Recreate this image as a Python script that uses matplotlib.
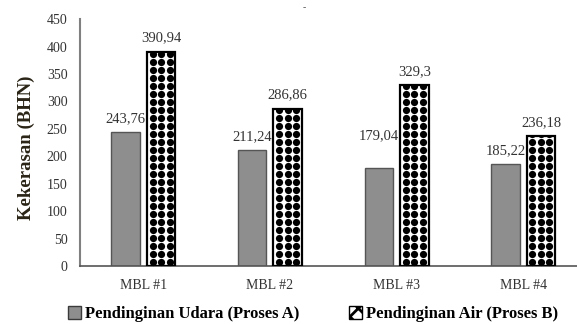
import matplotlib.pyplot as plt
import numpy as np
from matplotlib.patches import Patch

# Data kekerasan (BHN) per sampel
kategori = ['MBL #1', 'MBL #2', 'MBL #3', 'MBL #4']
proses_a = [243.76, 211.24, 179.04, 185.22]   # Pendinginan Udara
proses_b = [390.94, 286.86, 329.3, 236.18]    # Pendinginan Air
label_a = ['243,76', '211,24', '179,04', '185,22']
label_b = ['390,94', '286,86', '329,3', '236,18']
yticks = [0, 50, 100, 150, 200, 250, 300, 350, 400, 450]

plt.rcParams['font.family'] = ['Liberation Serif', 'DejaVu Serif']
plt.rcParams['hatch.linewidth'] = 2.0

fig = plt.figure(figsize=(5.77, 3.24), dpi=100)
ax = fig.add_axes([0.1386, 0.179, 0.878, 0.762])

x = np.arange(len(kategori))
lebar = 0.225
geser = 0.14

ax.set_xlim(-0.5, 3.5)
ax.set_ylim(0, 450)

bar_a = ax.bar(x - geser, proses_a, lebar, color='#8e8e8e', edgecolor='#555555',
               linewidth=1.0, zorder=2)
bar_b = ax.bar(x + geser, proses_b, lebar, color='none', edgecolor='black',
               linewidth=1.6, zorder=4)

# Pola titik hitam di dalam batang Proses B
inv = ax.transData.inverted()
x0, y0 = inv.transform((0, 0))
x1, y1 = inv.transform((8.5, 8))
dx, dy = x1 - x0, y1 - y0
for xi, b in zip(x, bar_b):
    cx = xi + geser
    kol = cx + dx * np.arange(-1, 2)
    bar_bg = ax.bar(cx, b.get_height(), lebar, color='white', linewidth=0, zorder=2)[0]
    baris = np.arange(dy * 0.5, b.get_height() + dy, dy)
    gx, gy = np.meshgrid(kol, baris)
    sc = ax.scatter(gx.ravel(), gy.ravel(), s=27, marker='o', color='black',
                    linewidths=0, zorder=3)
    sc.set_clip_path(bar_bg)

# Label nilai di atas batang
naik_a = [10, 10, 23, 10]
for xi, v, t, d in zip(x, proses_a, label_a, naik_a):
    ax.annotate(t, (xi - geser, v), xytext=(0, d), textcoords='offset points',
                ha='center', va='center', fontsize=10.5, color='#333333')
for xi, v, t in zip(x, proses_b, label_b):
    ax.annotate(t, (xi + geser, v), xytext=(0, 10), textcoords='offset points',
                ha='center', va='center', fontsize=10.5, color='#333333')

ax.set_yticks(yticks)
ax.set_xticks(x)
ax.set_xticklabels(kategori)
ax.tick_params(axis='both', length=0, labelsize=10, colors='#333333')
ax.tick_params(axis='x', pad=9)
ax.tick_params(axis='y', pad=9)

for s in ['top', 'right']:
    ax.spines[s].set_visible(False)
ax.spines['left'].set_color('#808080')
ax.spines['left'].set_linewidth(1.5)
ax.spines['bottom'].set_color('#555555')
ax.spines['bottom'].set_linewidth(1.2)

fig.text(0.045, 0.545, 'Kekerasan (BHN)', rotation=90, ha='center', va='center',
         fontsize=13.5, fontweight='bold', color='#2a2416')
fig.text(0.528, 0.975, '-', ha='center', va='center', fontsize=7, color='#555555')

# Legenda
handles = [
    Patch(facecolor='#8e8e8e', edgecolor='#3a3a3a', label='Pendinginan Udara (Proses A)'),
    Patch(facecolor='white', edgecolor='black', hatch='xx', label='Pendinginan Air (Proses B)'),
]
fig.legend(handles=handles, loc='center', bbox_to_anchor=(0.543, 0.03), ncol=2,
           frameon=False, prop={'weight': 'bold', 'size': 12},
           handlelength=0.75, handleheight=0.75, handletextpad=0.25, columnspacing=3.0)

fig.savefig('out.png', dpi=100)
